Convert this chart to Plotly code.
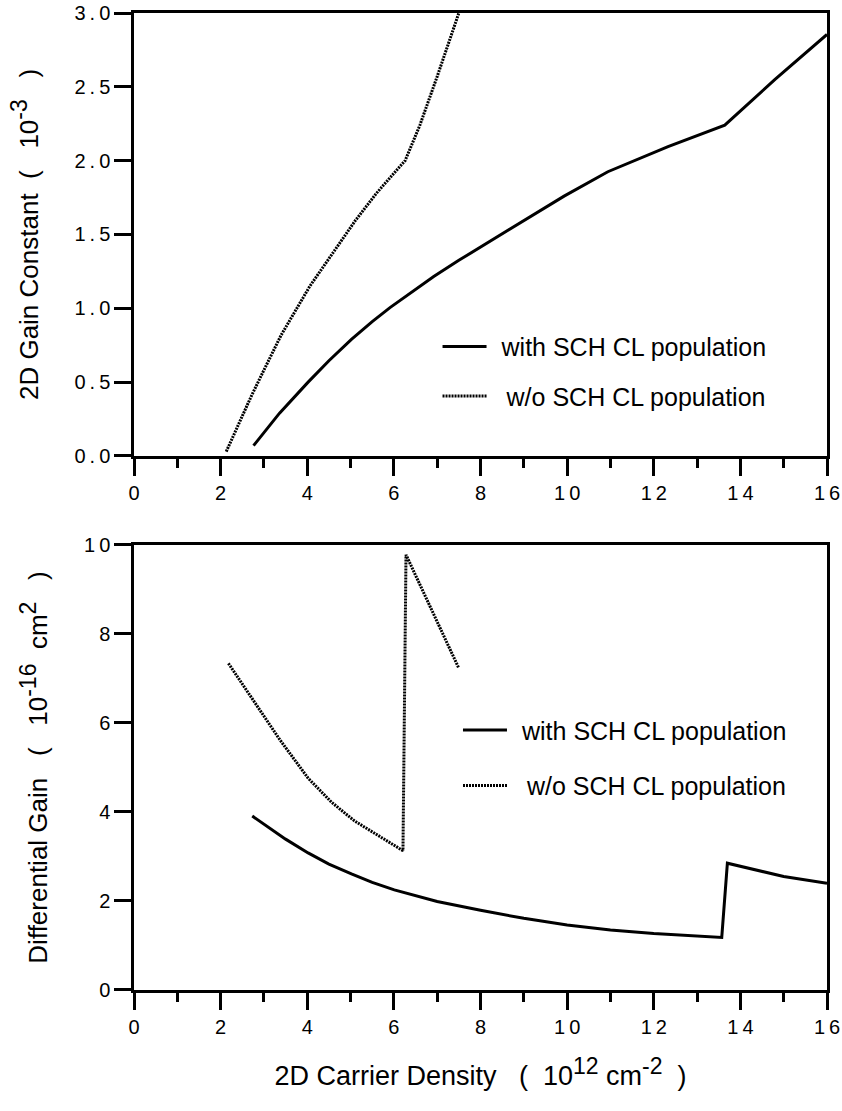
import plotly.graph_objects as go
from plotly.subplots import make_subplots

# ---- data ----
# Top panel: 2D gain constant (1e-3)
gain_with_x = [2.76, 3.0, 3.36, 4.02, 4.5, 5.02, 5.5, 5.91, 6.5, 6.92, 7.5, 8.0, 8.93, 9.93, 10.94, 12.33, 13.64, 14.8, 16.0]
gain_with_y = [0.07, 0.16, 0.29, 0.50, 0.645, 0.79, 0.91, 1.005, 1.13, 1.215, 1.325, 1.415, 1.585, 1.76, 1.925, 2.095, 2.24, 2.55, 2.855]
gain_wo_x = [2.13, 2.40, 2.70, 2.98, 3.40, 4.06, 4.60, 5.10, 5.60, 6.26, 6.60, 7.00, 7.50]
gain_wo_y = [0.03, 0.21, 0.40, 0.57, 0.82, 1.15, 1.38, 1.59, 1.78, 2.00, 2.24, 2.57, 3.00]

# Bottom panel: differential gain (1e-16 cm^2)
dg_with_x = [2.73, 3.02, 3.5, 4.02, 4.5, 5.02, 5.5, 6.01, 6.53, 7.0, 8.0, 9.0, 10.0, 11.0, 12.0, 13.0, 13.57, 13.70, 15.0, 16.0]
dg_with_y = [3.91, 3.71, 3.39, 3.08, 2.83, 2.61, 2.42, 2.25, 2.11, 1.99, 1.79, 1.61, 1.46, 1.35, 1.27, 1.21, 1.18, 2.85, 2.55, 2.40]
dg_wo_x = [2.18, 2.50, 2.80, 3.37, 4.02, 4.56, 5.09, 5.71, 6.21, 6.28, 6.78, 7.16, 7.50]
dg_wo_y = [7.34, 6.87, 6.43, 5.62, 4.76, 4.22, 3.80, 3.42, 3.13, 9.78, 8.72, 7.95, 7.23]

x_tickvals = [0, 2, 4, 6, 8, 10, 12, 14, 16]
x_ticktext = ["0", "2", "4", "6", "8", "1\u20090", "1\u20092", "1\u20094", "1\u20096"]
top_tickvals = [0.0, 0.5, 1.0, 1.5, 2.0, 2.5, 3.0]
top_ticktext = ["0\u2009.\u20090", "0\u2009.\u20095", "1\u2009.\u20090", "1\u2009.\u20095",
                "2\u2009.\u20090", "2\u2009.\u20095", "3\u2009.\u20090"]
bot_tickvals = [0, 2, 4, 6, 8, 10]
bot_ticktext = ["0", "2", "4", "6", "8", "1\u20090"]

label_with = "\u2009\u2009with SCH CL population"
label_wo = "\u2009\u2009\u2009w/o SCH CL population"

FONT = "Liberation Sans, Arial, Helvetica, sans-serif"
SOLID = dict(color="black", width=3)
DOTTED = dict(color="black", width=3, dash="2px,1px")

SUP = "<sup><span style='font-size:23px'>{}</span></sup>"
NB = "\u00a0"

fig = make_subplots(rows=2, cols=1, vertical_spacing=0.0)

fig.add_trace(go.Scatter(x=gain_with_x, y=gain_with_y, mode="lines", line=SOLID,
                         name=label_with, legend="legend", legendgroup="a"), row=1, col=1)
fig.add_trace(go.Scatter(x=gain_wo_x, y=gain_wo_y, mode="lines", line=DOTTED,
                         name=label_wo, legend="legend", legendgroup="b"), row=1, col=1)
fig.add_trace(go.Scatter(x=dg_with_x, y=dg_with_y, mode="lines", line=SOLID,
                         name=label_with, legend="legend2", legendgroup="c"), row=2, col=1)
fig.add_trace(go.Scatter(x=dg_wo_x, y=dg_wo_y, mode="lines", line=DOTTED,
                         name=label_wo, legend="legend2", legendgroup="d"), row=2, col=1)

axis_common = dict(showline=True, linecolor="black", linewidth=2.5, mirror=True,
                   showgrid=False, zeroline=False, ticks="outside", tickcolor="black",
                   tickwidth=2.5, automargin=False,
                   tickfont=dict(family=FONT, size=20, color="black"))

xaxis_common = dict(axis_common, range=[0, 16], tickmode="array", tickvals=x_tickvals,
                    ticktext=x_ticktext, ticklen=17,
                    minor=dict(dtick=1, ticks="outside", ticklen=9, tickwidth=2.5, tickcolor="black"))

x_title = "2D Carrier Density" + NB * 3 + "(" + NB * 2 + "10" + SUP.format("12") + NB + "cm" + SUP.format("-2") + NB * 2 + ")"
y1_title = "2D Gain Constant" + NB * 2 + "(" + NB * 3 + "10" + SUP.format("-3") + NB * 3 + ")"
y2_title = "Differential Gain" + NB * 3 + "(" + NB * 3 + "10" + SUP.format("-16") + NB * 2 + "cm" + SUP.format("2") + NB * 3 + ")"

fig.update_layout(
    template="none",
    width=842, height=1111,
    margin=dict(l=134, r=15, t=13, b=121),
    paper_bgcolor="white", plot_bgcolor="white",
    font=dict(family=FONT, color="black"),
    xaxis=dict(xaxis_common, domain=[0, 1]),
    xaxis2=dict(xaxis_common, domain=[0, 1],
                title=dict(text=x_title, font=dict(family=FONT, size=27, color="black"), standoff=30)),
    yaxis=dict(axis_common, domain=[0.5466, 1.0], range=[0, 3.0], tickmode="array",
               tickvals=top_tickvals, ticktext=top_ticktext, ticklen=17,
               title=dict(text=y1_title, font=dict(family=FONT, size=26, color="black"), standoff=29)),
    yaxis2=dict(axis_common, domain=[0.0, 0.4555], range=[0, 10], tickmode="array",
                tickvals=bot_tickvals, ticktext=bot_ticktext, ticklen=17,
                title=dict(text=y2_title, font=dict(family=FONT, size=26, color="black"), standoff=29)),
    legend=dict(x=0.438, y=0.682, xanchor="left", yanchor="top", bgcolor="rgba(0,0,0,0)",
                font=dict(family=FONT, size=25, color="black"), tracegroupgap=14,
                itemwidth=44),
    legend2=dict(x=0.4675, y=0.2895, xanchor="left", yanchor="top", bgcolor="rgba(0,0,0,0)",
                 font=dict(family=FONT, size=25, color="black"), tracegroupgap=20,
                 itemwidth=44),
    showlegend=True,
)

fig.write_html("out.html")
